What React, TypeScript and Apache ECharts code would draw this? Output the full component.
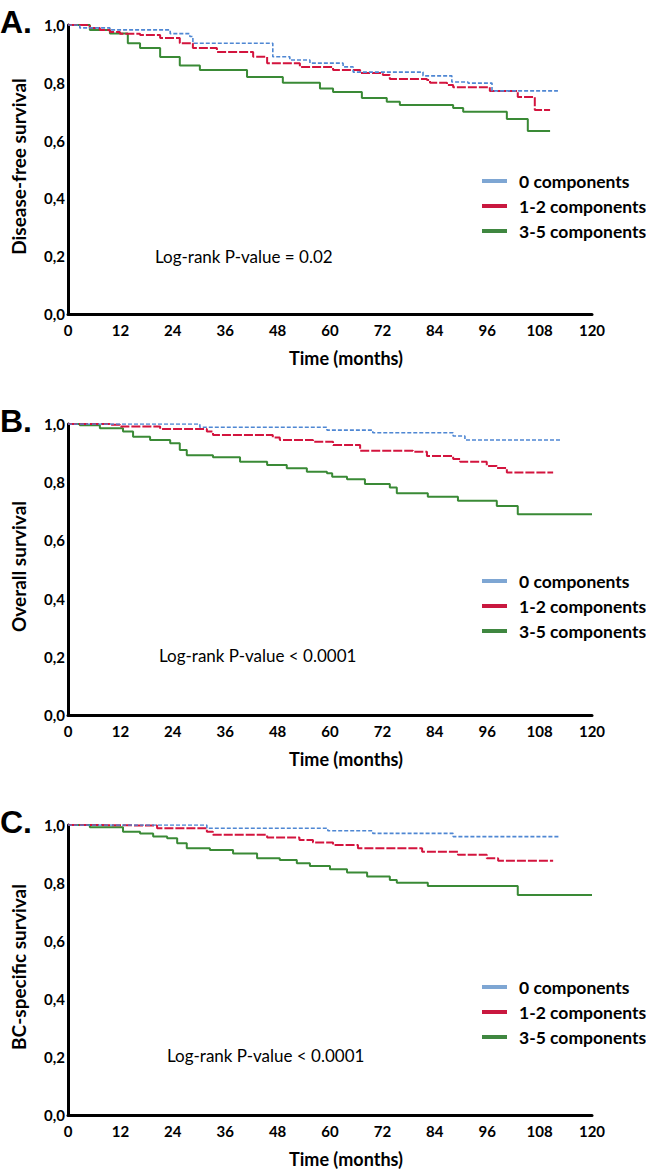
import React, { useEffect, useRef } from "react";
import * as echarts from "echarts";

const groupNames = ["0 components", "1-2 components", "3-5 components"];
const panelLetters = ["A.", "B.", "C."];
const yTitles = ["Disease-free survival", "Overall survival", "BC-specific survival"];
const pTexts = ["Log-rank P-value = 0.02", "Log-rank P-value < 0.0001", "Log-rank P-value < 0.0001"];
const xTitle = "Time (months)";

// Panel A – Disease-free survival [months, survival]
const dfsZero = [[0, 1], [2.7, 0.99], [9.6, 0.983], [23.4, 0.97], [27.9, 0.96], [28.6, 0.937], [46.9, 0.89], [50.8, 0.879], [55.4, 0.868], [63.0, 0.855], [65.3, 0.837], [81.3, 0.824], [87.9, 0.803], [91.6, 0.799], [97.1, 0.772], [112.2, 0.772]];
const dfsOneTwo = [[0, 1], [5.0, 0.99], [7.3, 0.983], [9.6, 0.976], [11.9, 0.97], [16.5, 0.965], [21.1, 0.955], [25.6, 0.937], [28.6, 0.92], [34.1, 0.907], [42.4, 0.89], [45.6, 0.868], [53.1, 0.855], [60.7, 0.844], [66.9, 0.834], [72.1, 0.827], [73.7, 0.813], [82.2, 0.81], [82.9, 0.8], [86.8, 0.792], [88.2, 0.785], [96.6, 0.772], [103.0, 0.751], [106.9, 0.706], [110.4, 0.706]];
const dfsThreeFive = [[0, 1], [5.0, 0.983], [9.6, 0.971], [13.7, 0.937], [16.5, 0.92], [21.1, 0.889], [25.6, 0.86], [30.2, 0.844], [41.0, 0.82], [49.2, 0.8], [57.7, 0.78], [60.7, 0.768], [67.3, 0.747], [73.0, 0.734], [76.0, 0.723], [88.2, 0.713], [90.5, 0.7], [100.5, 0.675], [105.3, 0.633], [110.4, 0.633]];

// Panel B – Overall survival
const osZero = [[0, 1], [30.2, 0.989], [59.3, 0.979], [69.8, 0.97], [88.2, 0.959], [90.9, 0.945], [112.7, 0.945]];
const osOneTwo = [[0, 1], [9.6, 0.997], [11.9, 0.991], [21.1, 0.983], [31.8, 0.974], [33.2, 0.962], [46.9, 0.954], [48.5, 0.945], [56.1, 0.939], [60.7, 0.928], [66.9, 0.908], [79.0, 0.905], [82.2, 0.89], [88.2, 0.88], [89.8, 0.87], [95.9, 0.856], [98.2, 0.849], [100.5, 0.833], [111.1, 0.833]];
const osThreeFive = [[0, 1], [2.7, 0.996], [7.3, 0.985], [12.6, 0.974], [14.9, 0.956], [18.8, 0.945], [23.4, 0.934], [25.6, 0.911], [27.2, 0.893], [33.2, 0.886], [39.4, 0.87], [45.6, 0.859], [50.1, 0.848], [54.7, 0.836], [59.3, 0.831], [60.5, 0.819], [63.9, 0.81], [68.0, 0.794], [73.7, 0.782], [75.3, 0.762], [82.4, 0.75], [89.3, 0.736], [98.2, 0.718], [103.0, 0.69], [120, 0.69]];

// Panel C – BC-specific survival
const bcZero = [[0, 1], [31.8, 0.989], [59.5, 0.98], [69.8, 0.971], [88.2, 0.96], [112.7, 0.96]];
const bcOneTwo = [[0, 1], [5.0, 0.998], [20.4, 0.989], [31.8, 0.977], [33.2, 0.966], [45.6, 0.957], [53.0, 0.948], [56.1, 0.94], [60.7, 0.931], [66.4, 0.92], [81.1, 0.908], [89.3, 0.897], [95.9, 0.885], [98.5, 0.877], [111.1, 0.877]];
const bcThreeFive = [[0, 1], [5.0, 0.992], [12.6, 0.977], [16.5, 0.971], [19.5, 0.96], [22.7, 0.954], [25.0, 0.937], [27.2, 0.92], [32.5, 0.914], [37.8, 0.902], [43.3, 0.885], [48.5, 0.879], [52.4, 0.868], [55.4, 0.859], [60.0, 0.847], [63.9, 0.836], [68.5, 0.822], [73.7, 0.81], [75.3, 0.801], [82.4, 0.79], [103.0, 0.759], [120, 0.759]];

const panelData = [
  [dfsZero, dfsOneTwo, dfsThreeFive],
  [osZero, osOneTwo, osThreeFive],
  [bcZero, bcOneTwo, bcThreeFive],
];

const FONT = "Lato, 'Open Sans', sans-serif";
const lineColors = ["#4F87D3", "#D3143E", "#3A8A36"];
const legendColors = ["#7EA6D3", "#C9183F", "#3F8740"];
const lineTypes: any[] = [[4, 2], [9, 2], "solid"];
const lineWidths = [1.6, 2, 2];

const tops = [25, 424, 825];
const heights = [289, 291, 290];
const legendOffsets = [156, 157, 162];
const pPos = [[155, 231], [159, 231], [167, 230]];
const LEFT = 68;
const RIGHT = 592;

export default function App() {
  const ref = useRef<HTMLDivElement>(null);
  useEffect(() => {
    if (!ref.current) return;
    const chart = echarts.init(ref.current, null, { renderer: "svg" });
    const grid: any[] = [];
    const xAxis: any[] = [];
    const yAxis: any[] = [];
    const series: any[] = [];
    const graphic: any[] = [];
    panelData.forEach((groups, i) => {
      grid.push({ left: LEFT, width: RIGHT - LEFT, top: tops[i], height: heights[i] });
      xAxis.push({
        type: "value", gridIndex: i, min: 0, max: 120, interval: 12,
        axisLine: { show: true, lineStyle: { color: "#000", width: 3 } },
        axisTick: { show: false }, splitLine: { show: false },
        axisLabel: { color: "#000", fontFamily: FONT, fontWeight: "bold", fontSize: 15, margin: 8 },
      });
      yAxis.push({
        type: "value", gridIndex: i, min: 0, max: 1, interval: 0.2,
        axisLine: { show: true, lineStyle: { color: "#000", width: 3 } },
        axisTick: { show: false }, splitLine: { show: false },
        axisLabel: {
          color: "#000", fontFamily: FONT, fontWeight: "bold", fontSize: 15, margin: 3,
          formatter: (v: number) => v.toFixed(1).replace(".", ","),
        },
      });
      [2, 1, 0].forEach((g) => {
        series.push({
          type: "line", name: groupNames[g], xAxisIndex: i, yAxisIndex: i,
          data: groups[g], step: "end", showSymbol: false, symbol: "none",
          lineStyle: { color: lineColors[g], width: lineWidths[g], type: lineTypes[g] },
          z: 3 + (2 - g),
        });
      });
      const top = tops[i];
      const h = heights[i];
      graphic.push({
        type: "text", x: 0, y: top - 3.5,
        style: { text: panelLetters[i], font: "bold 32px 'Liberation Sans', Arial, sans-serif", fill: "#000", textVerticalAlign: "middle" },
      });
      graphic.push({
        type: "text", x: 18, y: top + h / 2 - 3, rotation: Math.PI / 2,
        style: { text: yTitles[i], font: `bold 19px ${FONT}`, fill: "#000", textAlign: "center", textVerticalAlign: "middle" },
      });
      graphic.push({
        type: "text", x: 346, y: top + h + 44,
        style: { text: xTitle, font: `bold 18px ${FONT}`, fill: "#000", textAlign: "center", textVerticalAlign: "middle" },
      });
      graphic.push({
        type: "text", x: pPos[i][0], y: top + pPos[i][1],
        style: { text: pTexts[i], font: `17px ${FONT}`, fill: "#000", textVerticalAlign: "middle" },
      });
      groupNames.forEach((name, g) => {
        const cy = top + legendOffsets[i] + g * 25;
        graphic.push({ type: "rect", shape: { x: 482, y: cy - 2, width: 25, height: 4 }, style: { fill: legendColors[g] } });
        graphic.push({
          type: "text", x: 519, y: cy,
          style: { text: name, font: `bold 17.5px ${FONT}`, fill: "#000", textVerticalAlign: "middle" },
        });
      });
    });
    chart.setOption({ animation: false, backgroundColor: "#fff", grid, xAxis, yAxis, series, graphic });
    return () => chart.dispose();
  }, []);
  return <div ref={ref} style={{ position: "absolute", left: 0, top: 0, width: 646, height: 1171 }} />;
}
